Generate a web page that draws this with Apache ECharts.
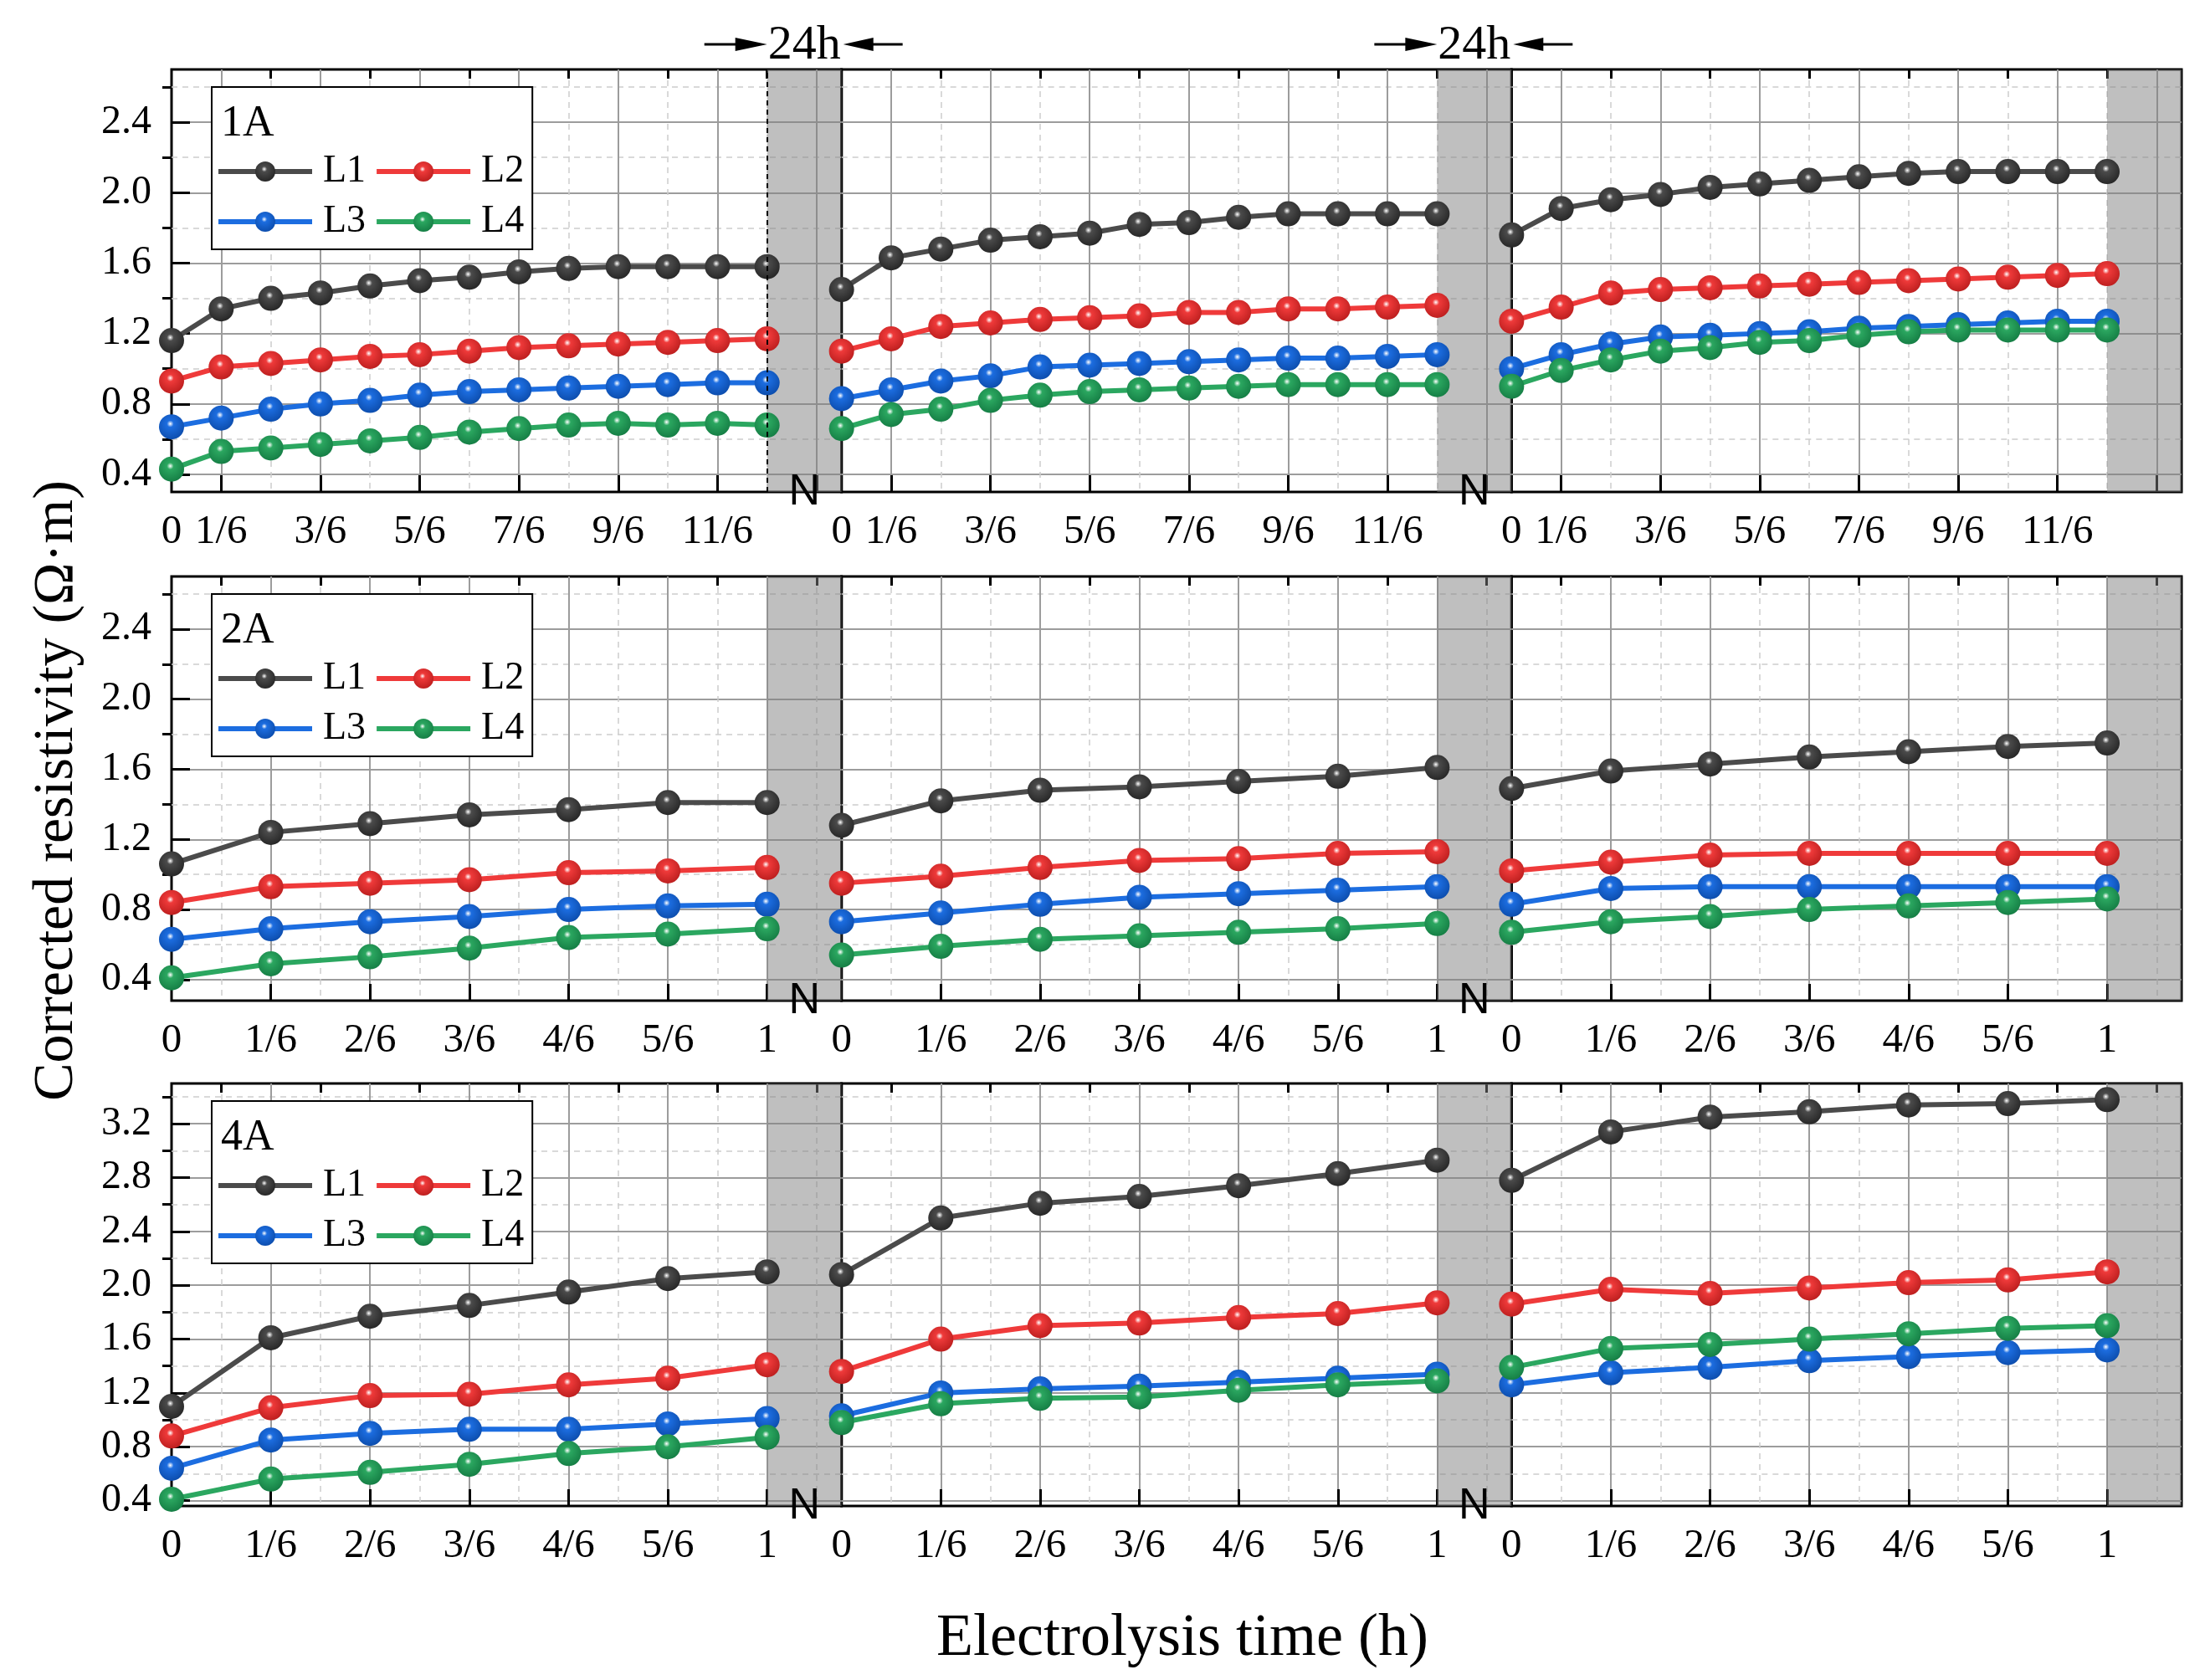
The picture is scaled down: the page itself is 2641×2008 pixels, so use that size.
<!DOCTYPE html>
<html>
<head>
<meta charset="utf-8">
<title>Corrected resistivity</title>
<script src="https://cdn.jsdelivr.net/npm/echarts@6/dist/echarts.min.js"></script>
<style>
  html, body { margin: 0; padding: 0; background: #fff; }
  #main { width: 2641px; height: 2008px; }
</style>
</head>
<body>
<div id="main"></div>
<script>
// lines and their colours
const lineNames = ['L1', 'L2', 'L3', 'L4'];
const lineColors = ['#4b4b4b', '#ef3a3a', '#1c6de0', '#2ba760'];
const lineDark = ['#232323', '#b81c1c', '#0b4aa8', '#137a42'];

// 1A: one point every 1/6 h over 2 h, three segments separated by 24 h rest
const r1A_L1 = [
  [1.16, 1.34, 1.40, 1.43, 1.47, 1.50, 1.52, 1.55, 1.57, 1.58, 1.58, 1.58, 1.58],
  [1.45, 1.63, 1.68, 1.73, 1.75, 1.77, 1.82, 1.83, 1.86, 1.88, 1.88, 1.88, 1.88],
  [1.76, 1.91, 1.96, 1.99, 2.03, 2.05, 2.07, 2.09, 2.11, 2.12, 2.12, 2.12, 2.12]
];
const r1A_L2 = [
  [0.93, 1.01, 1.03, 1.05, 1.07, 1.08, 1.10, 1.12, 1.13, 1.14, 1.15, 1.16, 1.17],
  [1.10, 1.17, 1.24, 1.26, 1.28, 1.29, 1.30, 1.32, 1.32, 1.34, 1.34, 1.35, 1.36],
  [1.27, 1.35, 1.43, 1.45, 1.46, 1.47, 1.48, 1.49, 1.50, 1.51, 1.52, 1.53, 1.54]
];
const r1A_L3 = [
  [0.67, 0.72, 0.77, 0.80, 0.82, 0.85, 0.87, 0.88, 0.89, 0.90, 0.91, 0.92, 0.92],
  [0.83, 0.88, 0.93, 0.96, 1.01, 1.02, 1.03, 1.04, 1.05, 1.06, 1.06, 1.07, 1.08],
  [1.00, 1.08, 1.14, 1.18, 1.19, 1.20, 1.21, 1.23, 1.24, 1.25, 1.26, 1.27, 1.27]
];
const r1A_L4 = [
  [0.43, 0.53, 0.55, 0.57, 0.59, 0.61, 0.64, 0.66, 0.68, 0.69, 0.68, 0.69, 0.68],
  [0.66, 0.74, 0.77, 0.82, 0.85, 0.87, 0.88, 0.89, 0.90, 0.91, 0.91, 0.91, 0.91],
  [0.90, 0.99, 1.05, 1.10, 1.12, 1.15, 1.16, 1.19, 1.21, 1.22, 1.22, 1.22, 1.22]
];

// 2A: one point every 1/6 h over 1 h
const r2A_L1 = [
  [1.06, 1.24, 1.29, 1.34, 1.37, 1.41, 1.41],
  [1.28, 1.42, 1.48, 1.50, 1.53, 1.56, 1.61],
  [1.49, 1.59, 1.63, 1.67, 1.70, 1.73, 1.75]
];
const r2A_L2 = [
  [0.84, 0.93, 0.95, 0.97, 1.01, 1.02, 1.04],
  [0.95, 0.99, 1.04, 1.08, 1.09, 1.12, 1.13],
  [1.02, 1.07, 1.11, 1.12, 1.12, 1.12, 1.12]
];
const r2A_L3 = [
  [0.63, 0.69, 0.73, 0.76, 0.80, 0.82, 0.83],
  [0.73, 0.78, 0.83, 0.87, 0.89, 0.91, 0.93],
  [0.83, 0.92, 0.93, 0.93, 0.93, 0.93, 0.93]
];
const r2A_L4 = [
  [0.41, 0.49, 0.53, 0.58, 0.64, 0.66, 0.69],
  [0.54, 0.59, 0.63, 0.65, 0.67, 0.69, 0.72],
  [0.67, 0.73, 0.76, 0.80, 0.82, 0.84, 0.86]
];

// 4A
const r4A_L1 = [
  [1.10, 1.61, 1.77, 1.85, 1.95, 2.05, 2.10],
  [2.08, 2.50, 2.61, 2.66, 2.74, 2.83, 2.93],
  [2.78, 3.14, 3.25, 3.29, 3.34, 3.35, 3.38]
];
const r4A_L2 = [
  [0.88, 1.09, 1.18, 1.19, 1.26, 1.31, 1.41],
  [1.36, 1.60, 1.70, 1.72, 1.76, 1.79, 1.87],
  [1.86, 1.97, 1.94, 1.98, 2.02, 2.04, 2.10]
];
const r4A_L3 = [
  [0.64, 0.85, 0.90, 0.93, 0.93, 0.97, 1.01],
  [1.03, 1.20, 1.23, 1.25, 1.28, 1.31, 1.34],
  [1.26, 1.35, 1.39, 1.44, 1.47, 1.50, 1.52]
];
const r4A_L4 = [
  [0.41, 0.56, 0.61, 0.67, 0.75, 0.80, 0.87],
  [0.98, 1.12, 1.16, 1.17, 1.22, 1.26, 1.29],
  [1.39, 1.53, 1.56, 1.60, 1.64, 1.68, 1.70]
];

// tick values (x in 1/12-of-segment units: 0..12 data, 12..13.5 rest band)
const xMajor1A = [1, 3, 5, 7, 9, 11, 13];
const xMinor1A = [2, 4, 6, 8, 10, 12];
const xLabelVals1A = [0, 1, 3, 5, 7, 9, 11];
const xLabelText1A = ['0', '1/6', '3/6', '5/6', '7/6', '9/6', '11/6'];
const xMajor2A = [2, 4, 6, 8, 10, 12];
const xMinor2A = [1, 3, 5, 7, 9, 11, 13];
const xLabelVals2A = [0, 2, 4, 6, 8, 10, 12];
const xLabelText2A = ['0', '1/6', '2/6', '3/6', '4/6', '5/6', '1'];

const yMajorLow = [0.4, 0.8, 1.2, 1.6, 2.0, 2.4];
const yMinorLow = [0.6, 1.0, 1.4, 1.8, 2.2, 2.6];
const yMajorHigh = [0.4, 0.8, 1.2, 1.6, 2.0, 2.4, 2.8, 3.2];
const yMinorHigh = [0.6, 1.0, 1.4, 1.8, 2.2, 2.6, 3.0, 3.4];

const SERIF = '"Liberation Serif", "Times New Roman", serif';

const panels = [
  { name: '1A', top: 83, height: 505, yMin: 0.3, yMax: 2.7, yMajor: yMajorLow, yMinor: yMinorLow,
    xMajor: xMajor1A, xMinor: xMinor1A, xLabelVals: xLabelVals1A, xLabelText: xLabelText1A, step: 1,
    lines: [r1A_L1, r1A_L2, r1A_L3, r1A_L4] },
  { name: '2A', top: 689, height: 507, yMin: 0.28, yMax: 2.7, yMajor: yMajorLow, yMinor: yMinorLow,
    xMajor: xMajor2A, xMinor: xMinor2A, xLabelVals: xLabelVals2A, xLabelText: xLabelText2A, step: 2,
    lines: [r2A_L1, r2A_L2, r2A_L3, r2A_L4] },
  { name: '4A', top: 1295, height: 505, yMin: 0.36, yMax: 3.5, yMajor: yMajorHigh, yMinor: yMinorHigh,
    xMajor: xMajor2A, xMinor: xMinor2A, xLabelVals: xLabelVals2A, xLabelText: xLabelText2A, step: 2,
    lines: [r4A_L1, r4A_L2, r4A_L3, r4A_L4] }
];

const X0 = 205, X1 = 2607;
const segW = (X1 - X0) / 3;

function ball(k) {
  return {
    type: 'radial', x: 0.45, y: 0.38, r: 0.68,
    colorStops: [
      { offset: 0, color: '#ffffff' },
      { offset: 0.2, color: lineColors[k] },
      { offset: 1, color: lineDark[k] }
    ]
  };
}

const chart = echarts.init(document.getElementById('main'));
const option = {
  animation: false,
  backgroundColor: '#fff',
  grid: [], xAxis: [], yAxis: [], series: [], legend: [], title: []
};

panels.forEach(function (p, pi) {
  for (let s = 0; s < 3; s++) {
    const g = pi * 3 + s;
    option.grid.push({
      left: X0 + s * segW, top: p.top, width: segW, height: p.height,
      show: true, borderColor: '#000', borderWidth: 3, backgroundColor: 'transparent'
    });
    // major x axis
    option.xAxis.push({
      type: 'value', gridIndex: g, min: 0, max: 13.5,
      axisLine: { show: false },
      axisTick: { show: true, inside: true, length: 20, lineStyle: { color: '#000', width: 3 }, customValues: p.xMajor },
      axisLabel: {
        show: true, customValues: p.xLabelVals, margin: 24,
        formatter: function (v) { return p.xLabelText[p.xLabelVals.indexOf(v)]; },
        fontSize: 49, fontFamily: SERIF, color: '#000'
      },
      splitLine: { show: true, lineStyle: { color: '#9c9c9c', width: 2 } }
    });
    // minor x axis
    option.xAxis.push({
      type: 'value', gridIndex: g, min: 0, max: 13.5,
      axisLine: { show: false },
      axisTick: { show: true, inside: true, length: 11, lineStyle: { color: '#000', width: 3 }, customValues: p.xMinor },
      axisLabel: { show: false },
      splitLine: { show: true, lineStyle: { color: '#cdcdcd', width: 1.5, type: [7, 6] } }
    });
    // major y axis
    option.yAxis.push({
      type: 'value', gridIndex: g, min: p.yMin, max: p.yMax,
      axisLine: { show: false },
      axisTick: { show: s === 0, inside: true, length: 22, lineStyle: { color: '#000', width: 3 }, customValues: p.yMajor },
      axisLabel: {
        show: s === 0, customValues: p.yMajor, margin: 24,
        formatter: function (v) { return v.toFixed(1); },
        fontSize: 48, fontFamily: SERIF, color: '#000'
      },
      splitLine: { show: true, lineStyle: { color: '#9c9c9c', width: 2 } }
    });
    // minor y axis
    option.yAxis.push({
      type: 'value', gridIndex: g, min: p.yMin, max: p.yMax,
      axisLine: { show: false },
      axisTick: { show: s === 0, inside: true, length: 11, lineStyle: { color: '#000', width: 3 }, customValues: p.yMinor },
      axisLabel: { show: false },
      splitLine: { show: true, lineStyle: { color: '#cdcdcd', width: 1.5, type: [7, 6] } }
    });

    p.lines.forEach(function (segs, k) {
      const ser = {
        type: 'line', name: lineNames[k],
        xAxisIndex: g * 2, yAxisIndex: g * 2,
        data: segs[s].map(function (v, i) { return [i * p.step, v]; }),
        symbol: 'circle', symbolSize: 30, showSymbol: true,
        lineStyle: { color: lineColors[k], width: 6 },
        itemStyle: { color: ball(k) },
        z: 3
      };
      if (k === 0) {
        ser.markArea = {
          silent: true,
          itemStyle: { color: 'rgba(128,128,128,0.5)' },
          data: [[{ xAxis: 12 }, { xAxis: 13.5 }]]
        };
        if (pi === 0 && s === 0) {
          ser.markLine = {
            silent: true, symbol: ['none', 'none'],
            label: { show: false },
            lineStyle: { color: '#000', type: [6, 5], width: 2 },
            data: [{ xAxis: 12 }]
          };
        }
      }
      option.series.push(ser);
    });
  }

  option.legend.push({
    left: 253, top: p.top + 21, width: 430, orient: 'horizontal',
    data: lineNames, selectedMode: false,
    itemWidth: 112, itemHeight: 30, itemGap: 10,
    lineStyle: { width: 6 },
    padding: [76, 10, 8, 5],
    backgroundColor: '#fff', borderColor: '#000', borderWidth: 2,
    textStyle: { fontSize: 46, fontFamily: SERIF, color: '#000', lineHeight: 50, padding: [0, 0, 0, 8] }
  });
  option.title.push({
    text: p.name, left: 259, top: p.top + 34,
    textStyle: { fontSize: 52, fontFamily: SERIF, fontWeight: 'normal', color: '#000' }
  });
});

chart.setOption(option);

// annotations placed from the axes: "N" under each rest band, "24h" arrows over the top panel
const graphics = [];
panels.forEach(function (p, pi) {
  for (let s = 0; s < 2; s++) {
    const g = pi * 3 + s;
    const finder = { xAxisIndex: g * 2, yAxisIndex: g * 2 };
    const a = chart.convertToPixel(finder, [12, p.yMin]);
    const b = chart.convertToPixel(finder, [13.5, p.yMin]);
    graphics.push({
      type: 'text', x: (a[0] + b[0]) / 2, y: a[1] + 1, z: 100,
      style: { text: 'N', fontSize: 52, fontFamily: '"Liberation Sans", Arial, sans-serif', fill: '#000', align: 'center', verticalAlign: 'middle' }
    });
    if (pi === 0) {
      const ta = chart.convertToPixel(finder, [12, p.yMax]);
      const tb = chart.convertToPixel(finder, [13.5, p.yMax]);
      const ay = ta[1] - 30;
      graphics.push({
        type: 'text', x: (ta[0] + tb[0]) / 2, y: ay + 2, z: 100,
        style: { text: '24h', fontSize: 58, fontFamily: SERIF, fill: '#000', align: 'center', verticalAlign: 'middle' }
      });
      graphics.push({ type: 'line', z: 100, shape: { x1: ta[0] - 75, y1: ay, x2: ta[0] - 20, y2: ay }, style: { stroke: '#000', lineWidth: 3 } });
      graphics.push({ type: 'polygon', z: 100, shape: { points: [[ta[0] - 38, ay - 8], [ta[0], ay], [ta[0] - 38, ay + 8]] }, style: { fill: '#000' } });
      graphics.push({ type: 'line', z: 100, shape: { x1: tb[0] + 20, y1: ay, x2: tb[0] + 73, y2: ay }, style: { stroke: '#000', lineWidth: 3 } });
      graphics.push({ type: 'polygon', z: 100, shape: { points: [[tb[0] + 38, ay - 8], [tb[0] + 2, ay], [tb[0] + 38, ay + 8]] }, style: { fill: '#000' } });
    }
  }
});
graphics.push({
  type: 'text', x: 68, y: 945, rotation: Math.PI / 2, z: 100,
  style: { text: 'Corrected resistivity (Ω·m)', fontSize: 68, fontFamily: SERIF, fill: '#000', align: 'center', verticalAlign: 'middle' }
});
graphics.push({
  type: 'text', x: 1413, y: 1959, z: 100,
  style: { text: 'Electrolysis time (h)', fontSize: 72, fontFamily: SERIF, fill: '#000', align: 'center', verticalAlign: 'middle' }
});
chart.setOption({ graphic: graphics });
</script>
</body>
</html>
